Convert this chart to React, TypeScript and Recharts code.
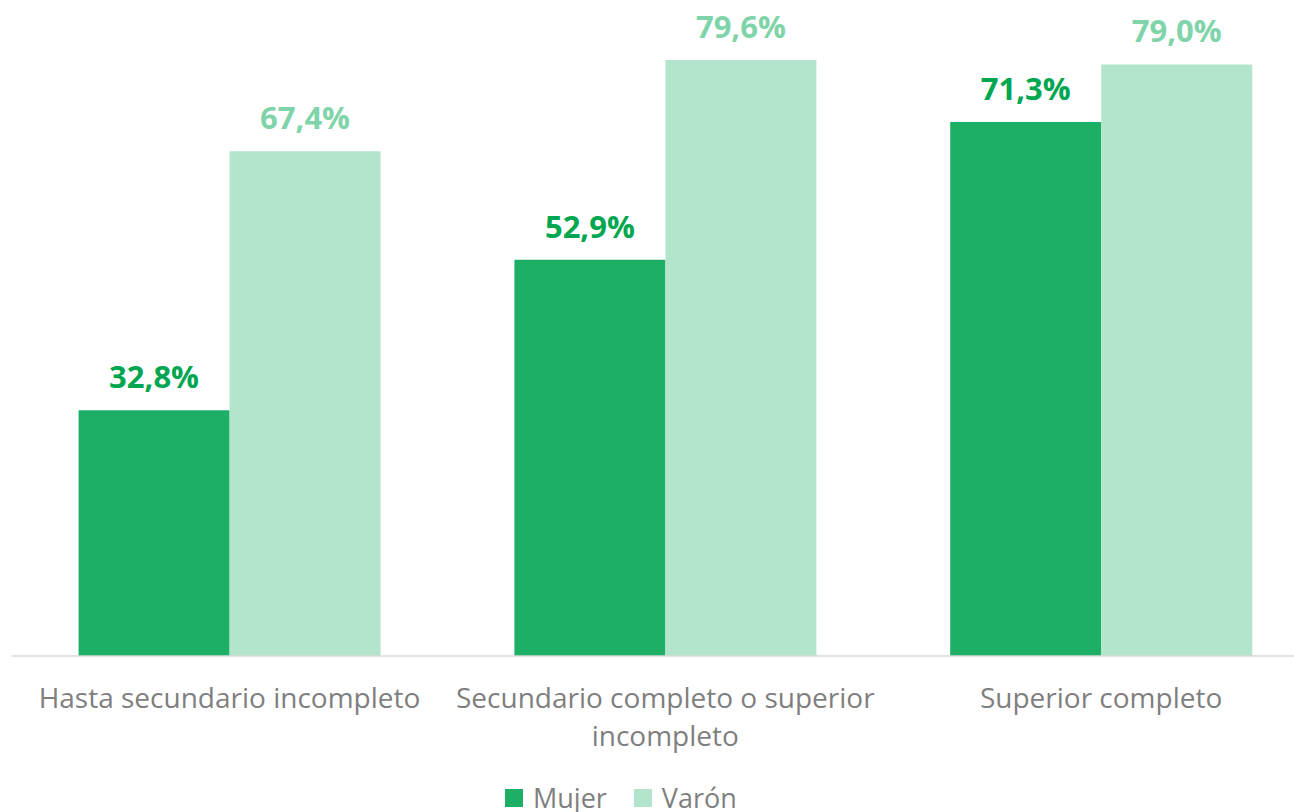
import { BarChart, Bar, XAxis, YAxis, Legend, LabelList } from "recharts";

const categories = [
  "Hasta secundario incompleto",
  "Secundario completo o superior\nincompleto",
  "Superior completo",
];
const mujer = [32.8, 52.9, 71.3];
const varon = [67.4, 79.6, 79.0];

const seriesNames = { mujer: "Mujer", varon: "Varón" };

const COLORS = {
  mujer: "#1daf66",
  varon: "#b3e5cc",
  mujerLabel: "#00a650",
  varonLabel: "#7fd4a9",
  text: "#7f7f7f",
  axis: "#d9d9d9",
};

const FONT = "'Open Sans', sans-serif";

const data = categories.map((c, i) => ({ name: c, mujer: mujer[i], varon: varon[i] }));

const fmt = (v: number) => v.toFixed(1).replace(".", ",") + "%";

function CategoryTick(props: any) {
  const { x, y, payload } = props;
  const lines = String(payload.value).split("\n");
  return (
    <text x={x} y={y} textAnchor="middle" fill={COLORS.text} fontSize={28} fontFamily={FONT}>
      {lines.map((l, i) => (
        <tspan key={i} x={x} dy={i === 0 ? 46 : 38}>
          {l}
        </tspan>
      ))}
    </text>
  );
}

function makeLabel(color: string) {
  return (props: any) => {
    const { x, y, width, value } = props;
    return (
      <text
        x={x + width / 2}
        y={y - 22}
        textAnchor="middle"
        fill={color}
        fontSize={31}
        fontWeight={700}
        fontFamily={FONT}
      >
        {fmt(value)}
      </text>
    );
  };
}

function LegendBox() {
  const items = [
    { name: seriesNames.mujer, color: COLORS.mujer },
    { name: seriesNames.varon, color: COLORS.varon },
  ];
  return (
    <div style={{ height: 48, position: "relative", width: 1294 }}>
      <div
        style={{
          position: "absolute",
          left: 505,
          top: 20,
          display: "flex",
          alignItems: "center",
          fontFamily: FONT,
          fontSize: 27,
          color: COLORS.text,
          lineHeight: "28px",
        }}
      >
        {items.map((it, i) => (
          <div key={i} style={{ display: "flex", alignItems: "center", marginRight: i === 0 ? 27 : 0 }}>
            <span style={{ width: 18, height: 18, background: it.color, display: "inline-block", marginRight: 10 }} />
            <span>{it.name}</span>
          </div>
        ))}
      </div>
    </div>
  );
}

export default function App() {
  return (
    <div style={{ position: "absolute", left: 0, top: 0, width: 1294, height: 812, overflow: "hidden", background: "#fff" }}>
      <BarChart
        width={1319}
        height={812}
        data={data}
        margin={{ top: 0, right: 0, left: 11.6, bottom: 0 }}
        barCategoryGap={67}
        barGap={0}
      >
        <XAxis
          dataKey="name"
          height={108}
          tickLine={false}
          tickMargin={0}
          axisLine={{ stroke: COLORS.axis, strokeWidth: 1.5 }}
          tick={<CategoryTick />}
          interval={0}
        />
        <YAxis hide domain={[0, 87.6]} />
        <Legend verticalAlign="bottom" content={<LegendBox />} wrapperStyle={{ left: 0, width: 1294 }} />
        <Bar dataKey="mujer" name={seriesNames.mujer} fill={COLORS.mujer} isAnimationActive={false}>
          <LabelList dataKey="mujer" content={makeLabel(COLORS.mujerLabel)} />
        </Bar>
        <Bar dataKey="varon" name={seriesNames.varon} fill={COLORS.varon} isAnimationActive={false}>
          <LabelList dataKey="varon" content={makeLabel(COLORS.varonLabel)} />
        </Bar>
      </BarChart>
    </div>
  );
}
